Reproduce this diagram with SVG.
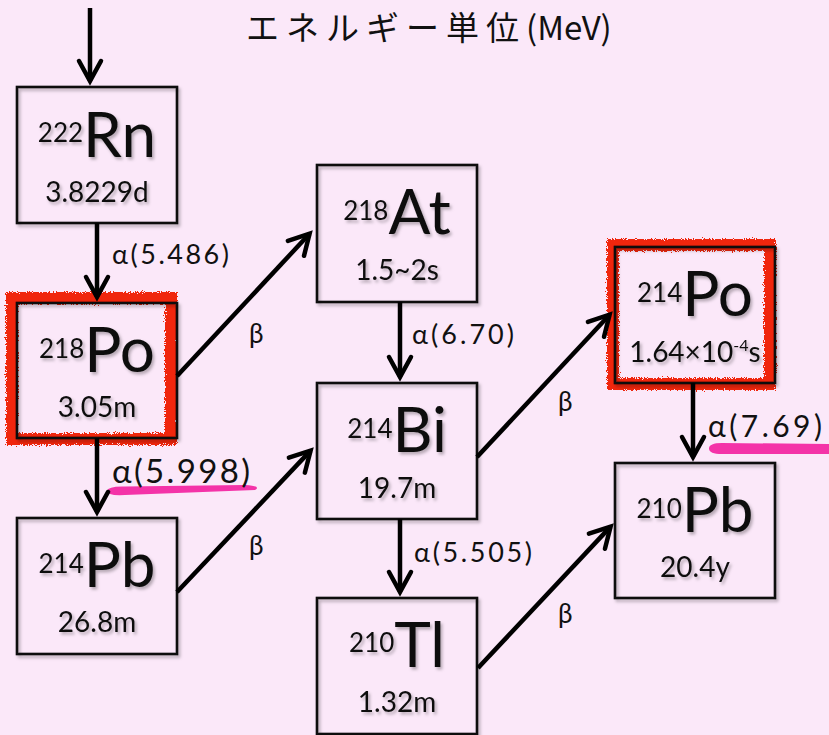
<svg xmlns="http://www.w3.org/2000/svg" width="829" height="735" viewBox="0 0 829 735">
  <defs>
    <style>
      .box { fill: none; stroke: #111; stroke-width: 2.6; }
      .el { font-family: Lato, "Open Sans", sans-serif; fill: #111; text-anchor: middle; }
      .mass { font-size: 26px; }
      .sym { font-size: 62px; }
      .hl { font-family: Lato, "Open Sans", sans-serif; font-size: 28px; fill: #111; text-anchor: middle; }
      .lbl { font-family: Lato, "Open Sans", sans-serif; fill: #111; }
      .beta { font-family: Lato, "Open Sans", sans-serif; font-size: 26px; fill: #111; }
      .wire { stroke: #000; stroke-width: 4.5; fill: none; marker-end: url(#ah); }
      .mark { fill: none; stroke: #f0260c; stroke-width: 12; }
      .hl-pink { fill: #f433a8; }
      .shade { filter: url(#sh); }
    </style>
    <marker id="ah" viewBox="-25 -15 30 30" markerWidth="30" markerHeight="30" refX="0" refY="0" orient="auto" markerUnits="userSpaceOnUse" overflow="visible">
      <path d="M-20,-11 L0,0 L-20,11" fill="none" stroke="#000" stroke-width="4.5" stroke-linecap="round" stroke-linejoin="miter"/>
    </marker>
    <filter id="sh" x="-20%" y="-20%" width="140%" height="140%">
      <feDropShadow dx="2" dy="2.5" stdDeviation="1.8" flood-color="#000" flood-opacity="0.28"/>
    </filter>
    <filter id="rough" x="-10%" y="-10%" width="120%" height="120%">
      <feTurbulence type="fractalNoise" baseFrequency="0.9" numOctaves="2" seed="3" result="n"/>
      <feDisplacementMap in="SourceGraphic" in2="n" scale="6" xChannelSelector="R" yChannelSelector="G"/>
    </filter>
  </defs>

  <rect width="829" height="735" fill="#fbe8f9"/>

  <!-- title -->
  <text x="246" y="40" font-family="'Noto Sans CJK JP', 'Noto Sans', sans-serif" font-size="33" fill="#111"><tspan letter-spacing="7">エネルギー単位</tspan><tspan>(MeV)</tspan></text>

  <!-- highlight frames -->
  <g id="highlights">
    <rect class="mark" filter="url(#rough)" x="12" y="298" width="159" height="141"/>
    <rect class="mark" filter="url(#rough)" x="613" y="245" width="157" height="139"/>
    <path class="hl-pink" d="M107,491 Q108,486 125,486.5 L245,485 Q262,486 255,490 L125,495 Q107,496 107,491 Z"/>
    <path class="hl-pink" d="M709,448.5 Q709,443 722,443 L829,444 L829,454 L722,454 Q709,454 709,448.5 Z"/>
  </g>

  <!-- nodes -->
  <g id="rn222">
    <rect class="box shade" x="17" y="87" width="160" height="136"/>
    <text class="el shade" x="97" y="142"><tspan class="mass">222</tspan><tspan class="sym" dy="15">Rn</tspan></text>
    <text class="hl shade" x="97" y="202">3.8229d</text>
  </g>
  <g id="po218">
    <rect class="box shade" x="17" y="303" width="160" height="135"/>
    <text class="el shade" x="97" y="358"><tspan class="mass">218</tspan><tspan class="sym" dy="14">Po</tspan></text>
    <text class="hl shade" x="97" y="417">3.05m</text>
  </g>
  <g id="pb214">
    <rect class="box shade" x="17" y="518" width="160" height="136"/>
    <text class="el shade" x="97" y="573"><tspan class="mass">214</tspan><tspan class="sym" dy="14">Pb</tspan></text>
    <text class="hl shade" x="97" y="632">26.8m</text>
  </g>
  <g id="at218">
    <rect class="box shade" x="317" y="165" width="160" height="137"/>
    <text class="el shade" x="397" y="220"><tspan class="mass">218</tspan><tspan class="sym" dy="14">At</tspan></text>
    <text class="hl shade" x="397" y="280">1.5~2s</text>
  </g>
  <g id="bi214">
    <rect class="box shade" x="317" y="383" width="160" height="136"/>
    <text class="el shade" x="397" y="438"><tspan class="mass">214</tspan><tspan class="sym" dy="14">Bi</tspan></text>
    <text class="hl shade" x="397" y="498">19.7m</text>
  </g>
  <g id="tl210">
    <rect class="box shade" x="317" y="598" width="160" height="136"/>
    <text class="el shade" x="397" y="652"><tspan class="mass">210</tspan><tspan class="sym" dy="15">Tl</tspan></text>
    <text class="hl shade" x="397" y="712">1.32m</text>
  </g>
  <g id="po214">
    <rect class="box shade" x="615" y="247" width="160" height="136"/>
    <text class="el shade" x="695" y="302"><tspan class="mass">214</tspan><tspan class="sym" dy="14">Po</tspan></text>
    <text class="hl shade" x="695" y="362" font-size="26">1.64×10<tspan font-size="16" dy="-11">-4</tspan><tspan dy="11">s</tspan></text>
  </g>
  <g id="pb210">
    <rect class="box shade" x="615" y="463" width="160" height="135"/>
    <text class="el shade" x="695" y="518"><tspan class="mass">210</tspan><tspan class="sym" dy="14">Pb</tspan></text>
    <text class="hl shade" x="695" y="577">20.4y</text>
  </g>

  <!-- connectors -->
  <g id="connectors">
    <line class="wire" x1="90" y1="8" x2="90" y2="81"/>
    <line class="wire" x1="97" y1="223" x2="97" y2="297"/>
    <line class="wire" x1="97" y1="438" x2="97" y2="512"/>
    <line class="wire" x1="400" y1="302" x2="400" y2="377"/>
    <line class="wire" x1="400" y1="519" x2="400" y2="592"/>
    <line class="wire" x1="693" y1="383" x2="693" y2="457"/>
    <line class="wire" x1="177" y1="376" x2="309.6" y2="233.7"/>
    <line class="wire" x1="177" y1="592" x2="310.6" y2="450.6"/>
    <line class="wire" x1="477" y1="457" x2="609.6" y2="314.7"/>
    <line class="wire" x1="478" y1="668" x2="610.6" y2="526.6"/>
  </g>

  <!-- connector labels -->
  <g id="labels">
    <text class="lbl" x="112" y="264" font-size="27" textLength="117" lengthAdjust="spacing">α(5.486)</text>
    <text class="lbl" x="112" y="483" font-size="33" textLength="138" lengthAdjust="spacing">α(5.998)</text>
    <text class="lbl" x="412" y="344" font-size="27" textLength="102" lengthAdjust="spacing">α(6.70)</text>
    <text class="lbl" x="414" y="562" font-size="27" textLength="118" lengthAdjust="spacing">α(5.505)</text>
    <text class="lbl" x="708" y="437" font-size="30" textLength="114" lengthAdjust="spacing">α(7.69)</text>
    <text class="beta" x="249" y="343">β</text>
    <text class="beta" x="249" y="555">β</text>
    <text class="beta" x="558" y="411">β</text>
    <text class="beta" x="558" y="623">β</text>
  </g>
</svg>
